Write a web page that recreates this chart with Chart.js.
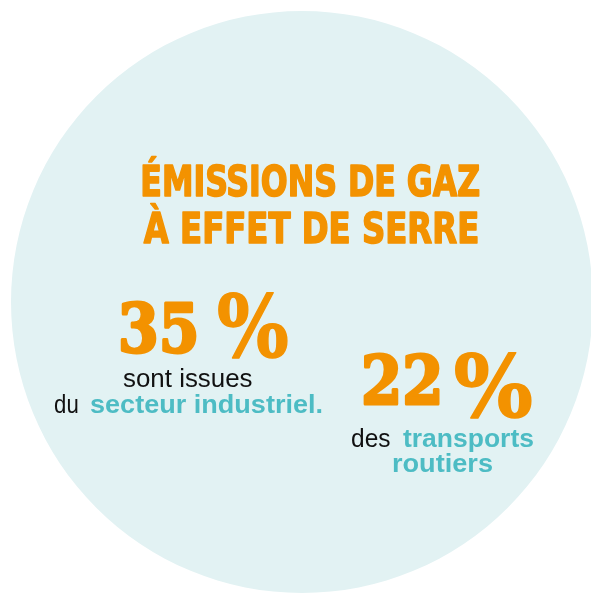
<!DOCTYPE html>
<html>
<head>
<meta charset="utf-8">
<script src="https://cdn.jsdelivr.net/npm/chart.js@4.4.0/dist/chart.umd.min.js"></script>
<style>
  html, body { margin: 0; padding: 0; background: #ffffff; overflow: hidden; }
  #wrap { position: absolute; left: 0; top: 0; width: 604px; height: 604px; }
</style>
</head>
<body>
<div id="wrap"><canvas id="emissionsChart"></canvas></div>
<script>
// donnees du visuel
const titreLignes = ['ÉMISSIONS DE GAZ', 'À EFFET DE SERRE'];
const secteurs = ['secteur industriel', 'transports routiers'];
const parts = [35, 22];
const fondLabels = ['Émissions de gaz à effet de serre'];
const fondValeurs = [100];

const ORANGE = '#f39200';
const TURQUOISE = '#4dbcc4';
const NOIR = '#111111';
const FOND = '#e2f2f3';

// dessine un texte etire horizontalement pour tenir dans la largeur voulue
// epais > 0 : on ajoute un contour de la meme couleur pour epaissir le trait
function texteAjuste(ctx, txt, font, couleur, x, y, largeur, epais) {
    epais = epais || 0;
    ctx.save();
    ctx.font = font;
    ctx.fillStyle = couleur;
    ctx.strokeStyle = couleur;
    ctx.lineJoin = 'round';
    ctx.textAlign = 'left';
    ctx.textBaseline = 'alphabetic';
    const m = ctx.measureText(txt);
    const encre = m.actualBoundingBoxRight + m.actualBoundingBoxLeft;
    const sx = (largeur - epais) / encre;
    ctx.translate(x + epais / 2, y - epais / 2);
    ctx.scale(sx, 1);
    ctx.fillText(txt, m.actualBoundingBoxLeft, 0);
    if (epais > 0) {
        ctx.lineWidth = epais;
        ctx.strokeText(txt, m.actualBoundingBoxLeft, 0);
    }
    ctx.restore();
}

const textesPlugin = {
    id: 'textes',
    afterDraw(chart) {
        const ctx = chart.ctx;
        const titre = 'bold 43px "DejaVu Sans Condensed", "DejaVu Sans", sans-serif';
        texteAjuste(ctx, titreLignes[0], titre, ORANGE, 142, 197, 338, 1.6);
        texteAjuste(ctx, titreLignes[1], titre, ORANGE, 143, 244, 335, 1.6);

        const chiffre = 'bold 67px "DejaVu Serif", serif';
        const pourcent = 'bold 86px "DejaVu Serif", serif';
        // 35 %
        texteAjuste(ctx, String(parts[0]), chiffre, ORANGE, 120, 353, 77, 3);
        texteAjuste(ctx, '%', pourcent, ORANGE, 218, 358, 70, 1.5);
        // 22 %
        texteAjuste(ctx, String(parts[1]), chiffre, ORANGE, 363, 405, 77, 3);
        texteAjuste(ctx, '%', pourcent, ORANGE, 455, 418, 77, 1.5);

        const normal = '25px "Liberation Sans", Arial, sans-serif';
        const gras = 'bold 25px "Liberation Sans", Arial, sans-serif';
        texteAjuste(ctx, 'sont issues', normal, NOIR, 123, 387, 129);
        texteAjuste(ctx, 'du', normal, NOIR, 55, 413, 23);
        texteAjuste(ctx, 'secteur industriel.', gras, TURQUOISE, 90, 413, 232);

        texteAjuste(ctx, 'des', normal, NOIR, 352, 447, 38);
        texteAjuste(ctx, 'transports', gras, TURQUOISE, 403, 447, 130);
        texteAjuste(ctx, 'routiers', gras, TURQUOISE, 393, 472, 99);
    }
};

const ctx = document.getElementById('emissionsChart').getContext('2d');
new Chart(ctx, {
    type: 'pie',
    data: {
        labels: fondLabels,
        datasets: [{
            data: fondValeurs,
            backgroundColor: [FOND],
            borderWidth: 0
        }]
    },
    options: {
        responsive: true,
        maintainAspectRatio: false,
        animation: false,
        layout: { padding: 11 },
        plugins: {
            legend: { display: false },
            tooltip: { enabled: false }
        }
    },
    plugins: [textesPlugin]
});
</script>
</body>
</html>
